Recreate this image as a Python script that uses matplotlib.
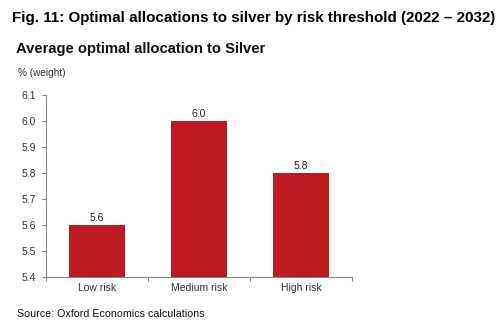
import matplotlib
matplotlib.use("Agg")
import matplotlib.pyplot as plt

categories = ["Low risk", "Medium risk", "High risk"]
values = [5.6, 6.0, 5.8]
yticks = [5.4, 5.5, 5.6, 5.7, 5.8, 5.9, 6.0, 6.1]

plt.rcParams['font.family'] = ['Liberation Sans', 'DejaVu Sans']

fig = plt.figure(figsize=(5.01, 3.31), dpi=100)
ax = fig.add_axes([46/501, 1-277/331, (352-46)/501, (277-95)/331])

bar_color = "#BE1A22"
x = range(len(categories))
ax.bar(x, [v - 5.4 for v in values], bottom=5.4, width=0.55, color=bar_color)
for xi, v in zip(x, values):
    ax.text(xi, v + 0.008, f"{v:.1f}", ha="center", va="bottom", fontsize=7.5, color="#222222")

ax.set_ylim(5.4, 6.1)
ax.set_xlim(-0.5, 2.5)
ax.set_yticks(yticks)
ax.set_yticklabels([f"{t:.1f}" for t in yticks])
ax.set_xticks([-0.5, 0.5, 1.5, 2.5], minor=False)
ax.set_xticklabels([])
ax.set_xticks(list(x), minor=True)
ax.set_xticklabels(categories, minor=True)
ax.tick_params(axis="x", which="minor", length=0, labelsize=7.5, labelcolor="#333333", pad=4)
ax.tick_params(axis="x", which="major", length=3, color="#888888")
ax.tick_params(axis="y", length=3, color="#888888", labelsize=7.5, labelcolor="#333333", pad=4)

for s in ["top", "right"]:
    ax.spines[s].set_visible(False)
for s in ["left", "bottom"]:
    ax.spines[s].set_color("#888888")
    ax.spines[s].set_linewidth(0.8)

fig.text(12/501, 1-18/331, "Fig. 11: Optimal allocations to silver by risk threshold (2022 \u2013 2032)",
         fontsize=10.9, fontweight="bold", va="center", ha="left", color="#000000")
fig.text(16/501, 1-49/331, "Average optimal allocation to Silver",
         fontsize=10.6, fontweight="bold", va="center", ha="left", color="#111111")
fig.text(18/501, 1-73/331, "% (weight)", fontsize=7.2, va="center", ha="left", color="#333333")
fig.text(17/501, 1-314/331, "Source: Oxford Economics calculations", fontsize=7.7, va="center", ha="left", color="#111111")

fig.savefig("out.png", dpi=100)
